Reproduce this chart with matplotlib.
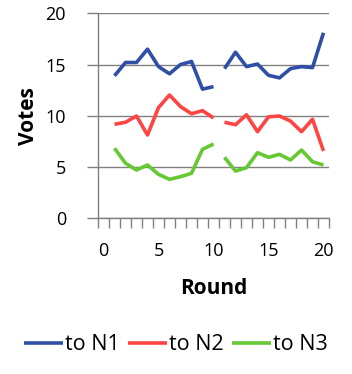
import matplotlib
matplotlib.use("Agg")
import matplotlib.pyplot as plt
import numpy as np

rounds = list(range(1, 21))
to_n1 = [13.9, 15.2, 15.2, 16.5, 14.8, 14.1, 15.0, 15.3, 12.6, 12.85,
         14.6, 16.2, 14.8, 15.05, 13.95, 13.7, 14.6, 14.8, 14.7, 18.1]
to_n2 = [9.17, 9.37, 9.98, 8.13, 10.8, 12.03, 10.9, 10.2, 10.5, 9.79,
         9.37, 9.13, 10.1, 8.45, 9.9, 9.98, 9.49, 8.45, 9.66, 6.57]
to_n3 = [6.83, 5.37, 4.71, 5.2, 4.29, 3.8, 4.06, 4.39, 6.73, 7.25,
         5.95, 4.61, 4.94, 6.4, 5.95, 6.24, 5.69, 6.66, 5.52, 5.2]
series_names = ["to N1", "to N2", "to N3"]
colors = ["#2F4FA6", "#FF4444", "#66C833"]
xtick_labels = [0, 5, 10, 15, 20]
ytick_labels = [0, 5, 10, 15, 20]

plt.rcParams['font.family'] = ['Open Sans', 'DejaVu Sans']

fig = plt.figure(figsize=(3.52, 3.74), dpi=100)
ax = fig.add_axes([98/352, 1-218.3/374, (329-98)/352, (218.3-13.3)/374])

grey = "#808080"
x = np.array(rounds)
handles = []
for vals, name, c in zip([to_n1, to_n2, to_n3], series_names, colors):
    v = np.array(vals)
    h, = ax.plot(x[:10], v[:10], color=c, lw=2.6, label=name, solid_capstyle='butt')
    ax.plot(x[10:], v[10:], color=c, lw=2.6, solid_capstyle='butt')
    handles.append(h)

ax.set_xlim(-0.5, 20.5)
ax.set_ylim(0, 20)
ax.set_yticks(ytick_labels)
ax.set_yticklabels([str(t) for t in ytick_labels], fontsize=13)
ax.set_xticks(xtick_labels)
ax.set_xticklabels([str(t) for t in xtick_labels], fontsize=13)
ax.set_xticks(np.arange(-0.5, 21, 1), minor=True)
ax.tick_params(axis='x', which='major', length=0, pad=17)
ax.tick_params(axis='x', which='minor', length=7.5, color=grey, width=1, direction='out')
ax.tick_params(axis='y', which='major', length=8, color=grey, width=1, pad=15)
ax.grid(axis='y', color=grey, lw=1)
ax.set_axisbelow(True)
for s in ['top', 'right']:
    ax.spines[s].set_visible(False)
for s in ['left', 'bottom']:
    ax.spines[s].set_color(grey)
    ax.spines[s].set_linewidth(1)

ax.set_ylabel("Votes", fontsize=15, fontweight='bold', labelpad=5)
ax.set_xlabel("Round", fontsize=15, fontweight='bold', labelpad=13)

fig.legend(handles=handles, labels=series_names, loc='center', bbox_to_anchor=(0.5, 1-345/374),
           ncol=3, frameon=False, fontsize=15.5, handlelength=1.8, handletextpad=0.1,
           columnspacing=0.4)

fig.savefig("out.png", dpi=100)
